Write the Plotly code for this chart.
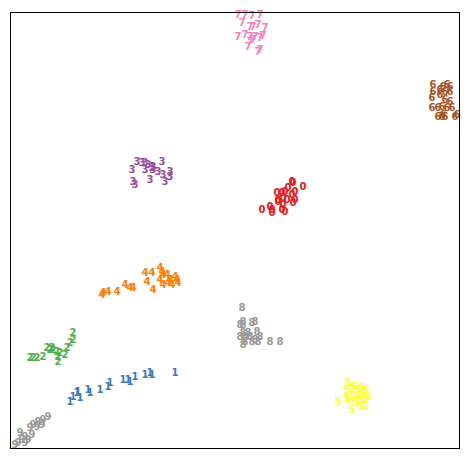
import plotly.graph_objects as go

# Embedding coordinates (arbitrary units) per digit class
x0 = [281, 282, 292, 277, 274, 271, 266, 284, 281, 267, 272, 276, 284, 259, 251, 261, 271, 274, 272, 282, 261, 267]
y0 = [266, 265, 261, 260, 256, 255, 255, 256, 253, 248, 250, 248, 248, 241, 238, 238, 238, 236, 243, 245, 235, 246]
x1 = [59, 62, 66, 67, 69, 77, 79, 89, 97, 99, 112, 117, 119, 124, 134, 139, 141, 164]
y1 = [46, 51, 55, 56, 50, 58, 55, 58, 61, 65, 68, 68, 66, 71, 73, 75, 73, 75]
x2 = [19, 22, 26, 32, 36, 39, 41, 42, 46, 49, 56, 59, 62, 62, 47, 47, 54]
y2 = [90, 90, 90, 91, 100, 98, 100, 98, 96, 95, 100, 105, 108, 115, 91, 86, 93]
x3 = [126, 131, 134, 137, 142, 151, 121, 134, 141, 142, 147, 152, 159, 159, 122, 124, 139, 154]
y3 = [286, 285, 285, 283, 281, 286, 278, 278, 280, 278, 276, 273, 276, 271, 266, 263, 268, 266]
x4 = [91, 92, 97, 106, 114, 119, 122, 134, 141, 136, 142, 149, 151, 152, 156, 149, 152, 157, 161, 164, 166, 167, 159]
y4 = [153, 155, 156, 156, 163, 160, 160, 175, 175, 166, 158, 180, 176, 173, 173, 168, 163, 165, 163, 171, 168, 165, 168]
x5 = [337, 336, 341, 344, 346, 351, 354, 352, 336, 337, 342, 347, 351, 354, 344, 349, 354, 341, 327, 357]
y5 = [65, 58, 60, 61, 58, 60, 58, 55, 50, 48, 51, 50, 48, 50, 45, 41, 41, 38, 46, 51]
x6 = [422, 432, 436, 439, 422, 429, 434, 439, 421, 429, 434, 439, 449, 421, 427, 431, 436, 441, 449, 427, 431, 432, 434, 444, 446]
y6 = [363, 361, 363, 361, 356, 358, 356, 356, 350, 353, 348, 346, 348, 340, 340, 341, 340, 340, 345, 331, 331, 333, 331, 331, 333]
x7 = [227, 234, 237, 241, 246, 248, 227, 234, 241, 249, 231, 239, 242, 247, 254, 227, 234, 239, 244, 249, 252, 239, 242, 237, 247, 249]
y7 = [440, 440, 438, 439, 438, 439, 433, 433, 432, 433, 425, 421, 421, 423, 420, 411, 413, 411, 411, 410, 412, 406, 408, 401, 396, 398]
x8 = [231, 232, 229, 232, 241, 244, 232, 229, 234, 237, 239, 246, 249, 244, 241, 234, 259, 269, 247, 232]
y8 = [140, 126, 123, 123, 125, 126, 115, 111, 111, 115, 111, 116, 111, 108, 106, 106, 106, 106, 106, 103]
x9 = [37, 32, 27, 22, 19, 26, 31, 9, 14, 17, 11, 7, 4, 14, 21]
y9 = [31, 28, 26, 23, 20, 21, 23, 15, 11, 8, 8, 5, 3, 5, 13]

digits = ["0", "1", "2", "3", "4", "5", "6", "7", "8", "9"]
xs = [x0, x1, x2, x3, x4, x5, x6, x7, x8, x9]
ys = [y0, y1, y2, y3, y4, y5, y6, y7, y8, y9]
colors = ["#e41a1c", "#377eb8", "#4daf4a", "#984ea3", "#ff7f00",
          "#ffff33", "#a65628", "#f781bf", "#999999", "#999999"]

fig = go.Figure()
for d, xv, yv, c in zip(digits, xs, ys, colors):
    fig.add_trace(go.Scatter(
        x=xv, y=yv, mode="text", text=[d] * len(xv),
        textposition="middle center",
        textfont=dict(family="DejaVu Sans", size=10, color=c, weight="bold"),
        cliponaxis=False, showlegend=False, hoverinfo="skip"))

axis_common = dict(showgrid=False, zeroline=False, showticklabels=False, ticks="",
                   showline=True, mirror=True, linecolor="black", linewidth=1)
fig.update_layout(
    width=455, height=445,
    margin=dict(l=3, r=4, t=5, b=5),
    paper_bgcolor="white", plot_bgcolor="white",
    xaxis=dict(range=[0, 448], **axis_common),
    yaxis=dict(range=[0, 435], **axis_common),
)
fig.write_html("out.html")
